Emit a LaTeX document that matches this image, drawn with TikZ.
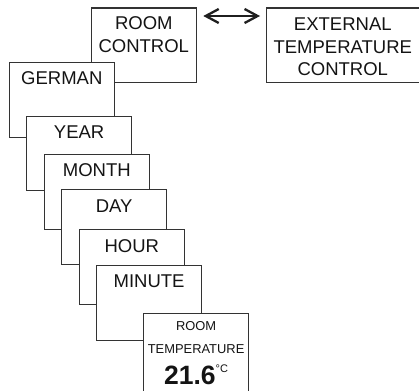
\documentclass[tikz,border=0pt]{standalone}
\usepackage{fontspec}
\setmainfont{Liberation Sans}
\usetikzlibrary{positioning,arrows.meta}

\begin{document}
\begin{tikzpicture}[
    x=1pt, y=-1pt,
    panel/.style={draw=black!80, line width=1.1pt, fill=white, rectangle, anchor=north west, minimum width=104.5pt, minimum height=74.5pt, inner sep=0pt},
    caption/.style={align=center, inner sep=0pt, text=black!92, font=\fontsize{18.5}{22.7}\selectfont},
    arrow/.style={{Straight Barb[length=13pt,width=14pt]}-{Straight Barb[length=13pt,width=14pt]}, line width=2.3pt, black!88}
]
\clip (0,0) rectangle (419,390);

% Top row: the two control modes
\node[panel] (rc) at (91,7.5) {};
\node[caption, below=9pt of rc.north] (rcText) {ROOM\\CONTROL};
\node[panel, minimum width=152.5pt] (ext) at (266,7.5) {};
\node[caption, below=10pt of ext.north] (extText) {EXTERNAL\\TEMPERATURE\\CONTROL};

% Arrow (bidirectional)
\draw[arrow, shorten <=6.7pt, shorten >=6pt] ([yshift=-8.5pt]rc.north east) -- ([yshift=-8.5pt]ext.north west);

% Stacked setting screens
\node[panel] (german) at (9,62.3) {};
\node[caption, below=9.5pt of german.north] (germanText) {GERMAN};
\node[panel] (year) at (26.3,115.7) {};
\node[caption, below=10pt of year.north] (yearText) {YEAR};
\node[panel] (month) at (44,154) {};
\node[caption, below=9.5pt of month.north] (monthText) {MONTH};
\node[panel] (day) at (61.3,189.3) {};
\node[caption, below=10pt of day.north] (dayText) {DAY};
\node[panel] (hour) at (79,229.3) {};
\node[caption, below=10pt of hour.north] (hourText) {HOUR};
\node[panel] (minute) at (96.3,265.3) {};
\node[caption, below=9.7pt of minute.north] (minuteText) {MINUTE};

% Final display
\node[panel, minimum height=85pt] (rt) at (143.3,313) {};
\node[caption, below=8.7pt of rt.north, font=\fontsize{12.9}{22.7}\selectfont] (rtText) {ROOM\\TEMPERATURE};
\node[caption, below=52pt of rt.north, font=\fontsize{26.5}{30}\selectfont\bfseries] (rtValue) {21.6\raisebox{11.3pt}{\fontsize{11}{11}\selectfont\mdseries °C}};

\end{tikzpicture}
\end{document}
